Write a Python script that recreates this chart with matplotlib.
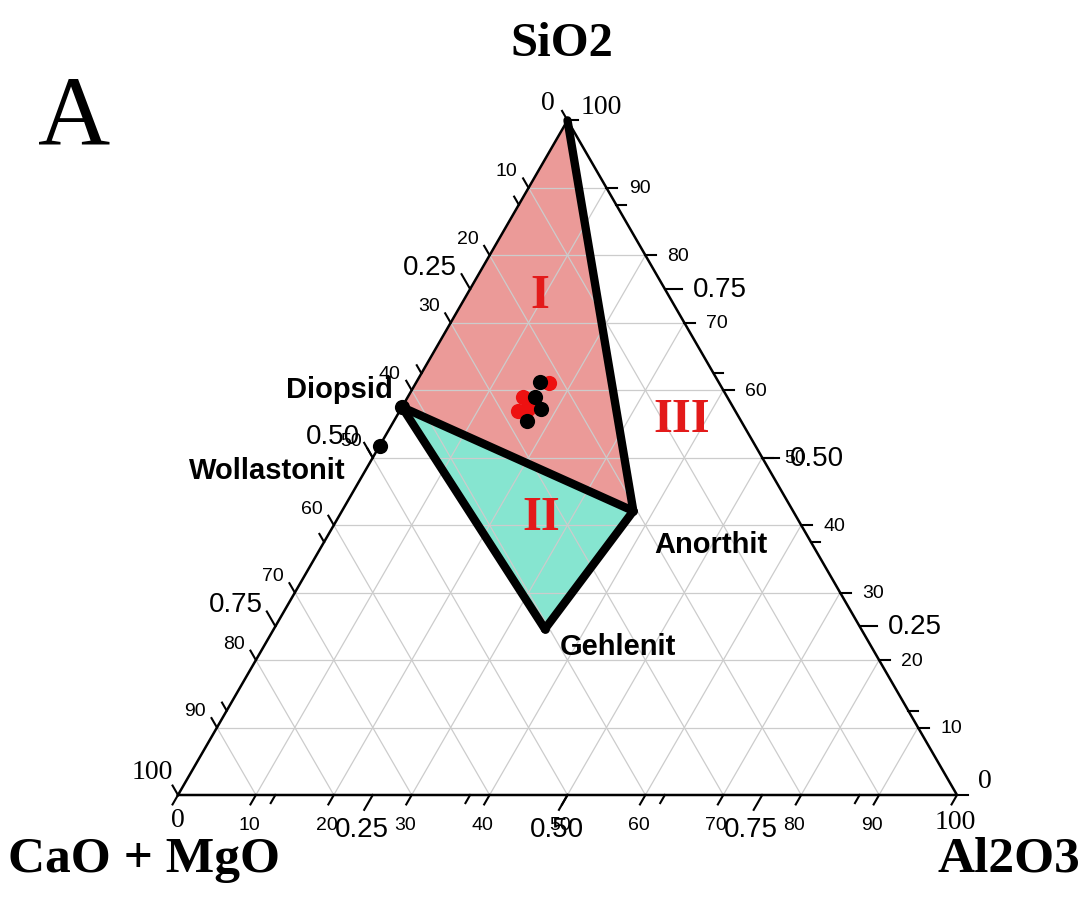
import numpy as np
import matplotlib
matplotlib.use('Agg')
import matplotlib.pyplot as plt

# ternary data: (Al2O3, SiO2) fractions, CaO+MgO = 1 - Al - Si
mineral_names = ['Diopsid', 'Wollastonit', 'Anorthit', 'Gehlenit']
mineral_al = [0.0, 0.0, 0.374, 0.348]
mineral_si = [0.575, 0.518, 0.421, 0.246]

black_al = [0.159, 0.163, 0.180, 0.171]
black_si = [0.612, 0.590, 0.572, 0.554]
red_al = [0.171, 0.148, 0.152, 0.163]
red_si = [0.610, 0.590, 0.569, 0.572]

major_ticks = [0, 10, 20, 30, 40, 50, 60, 70, 80, 90, 100]
quarter_ticks = [0.25, 0.50, 0.75]
eighth_ticks = [0.125, 0.375, 0.625, 0.875]

SERIF = 'Liberation Serif'
SANS = 'Liberation Sans'
H = np.sqrt(3) / 2


def tern(al, si):
    al = np.asarray(al, dtype=float)
    si = np.asarray(si, dtype=float)
    return al + si / 2, si * H


fig = plt.figure(figsize=(10.86, 9.03), dpi=100)
ax = fig.add_axes([0, 0, 1, 1])
ax.set_xlim(-178 / 779, (1086 - 178) / 779)
ax.set_ylim((796 - 903) / 779, 796 / 779)
ax.axis('off')

# grid lines
gc = '#cccccc'
for k in range(1, 10):
    f = k / 10
    # constant SiO2 (horizontal)
    x, y = tern([0, 1 - f], [f, f])
    ax.plot(x, y, color=gc, lw=0.9, zorder=1)
    # constant Al2O3
    x, y = tern([f, f], [0, 1 - f])
    ax.plot(x, y, color=gc, lw=0.9, zorder=1)
    # constant CaO
    x, y = tern([1 - f, 0], [0, 1 - f])
    ax.plot(x, y, color=gc, lw=0.9, zorder=1)

# fields
pink = '#eb9a98'
cyan = '#86e5d0'
dio = (mineral_al[0], mineral_si[0])
ano = (mineral_al[2], mineral_si[2])
geh = (mineral_al[3], mineral_si[3])
top = (0.0, 1.0)

x, y = tern([top[0], dio[0], ano[0]], [top[1], dio[1], ano[1]])
ax.fill(x, y, color=pink, zorder=0.5, lw=0)
x, y = tern([dio[0], ano[0], geh[0]], [dio[1], ano[1], geh[1]])
ax.fill(x, y, color=cyan, zorder=0.5, lw=0)

# outer triangle
x, y = tern([0, 1, 0, 0], [0, 0, 1, 0])
ax.plot(x, y, color='black', lw=1.8, zorder=3)

# thick boundaries
for a, b in [(top, ano), (dio, ano), (dio, geh), (geh, ano)]:
    x, y = tern([a[0], b[0]], [a[1], b[1]])
    ax.plot(x, y, color='black', lw=6, solid_capstyle='round', zorder=4)

# ticks
def draw_tick(px, py, dx, dy, length):
    ax.plot([px, px + dx * length], [py, py + dy * length], color='black', lw=1.5, zorder=3)

d_bottom = (-0.5, -H)
d_right = (1.0, 0.0)
d_left = (-0.5, H)
for t in major_ticks:
    f = t / 100
    bx, by = tern(f, 0)
    draw_tick(bx, by, *d_bottom, 0.014)
    rx, ry = tern(1 - f, f)
    draw_tick(rx, ry, *d_right, 0.014)
    lx, ly = tern(0, 1 - f)
    draw_tick(lx, ly, *d_left, 0.014)
for f in quarter_ticks:
    bx, by = tern(f, 0)
    draw_tick(bx, by, *d_bottom, 0.022)
    rx, ry = tern(1 - f, f)
    draw_tick(rx, ry, *d_right, 0.022)
    lx, ly = tern(0, 1 - f)
    draw_tick(lx, ly, *d_left, 0.022)
for f in eighth_ticks:
    bx, by = tern(f, 0)
    draw_tick(bx, by, *d_bottom, 0.012)
    rx, ry = tern(1 - f, f)
    draw_tick(rx, ry, *d_right, 0.012)
    lx, ly = tern(0, 1 - f)
    draw_tick(lx, ly, *d_left, 0.012)

# tick labels
px = 1 / 779
for t in major_ticks[1:-1]:
    f = t / 100
    bx, by = tern(f, 0)
    ax.text(bx - 7 * px, by - 30 * px, str(t), fontsize=14, family=SANS,
            ha='center', va='center', zorder=5)
    rx, ry = tern(1 - f, f)
    ax.text(rx + 33 * px, ry, str(t), fontsize=14, family=SANS,
            ha='center', va='center', zorder=5)
    lx, ly = tern(0, 1 - f)
    ax.text(lx - 22 * px, ly + 17 * px, str(t), fontsize=14, family=SANS,
            ha='center', va='center', zorder=5)
for f in quarter_ticks:
    lab = '%.2f' % f
    bx, by = tern(f, 0)
    ax.text(bx - 11 * px, by - 34 * px, lab, fontsize=20, family=SANS,
            ha='center', va='center', zorder=5)
    rx, ry = tern(1 - f, f)
    ax.text(rx + 55 * px, ry, lab, fontsize=20, family=SANS,
            ha='center', va='center', zorder=5)
    lx, ly = tern(0, 1 - f)
    ax.text(lx - 40 * px, ly + 22 * px, lab, fontsize=20, family=SANS,
            ha='center', va='center', zorder=5)

# corner labels
for xy, off, lab in [((0, 1), (-20, 18), '0'), ((0, 1), (34, 14), '100'),
                     ((0, 0), (-26, 23), '100'), ((0, 0), (0, -25), '0'),
                     ((1, 0), (-2, -27), '100'), ((1, 0), (28, 14), '0')]:
    cx, cy = tern(*xy)
    ax.text(cx + off[0] * px, cy + off[1] * px, lab, fontsize=20, family=SERIF,
            ha='center', va='center', zorder=5)

# data points
x, y = tern(red_al, red_si)
ax.scatter(x, y, s=120, color='#ee1111', zorder=6, lw=0)
x, y = tern(black_al, black_si)
ax.scatter(x, y, s=120, color='black', zorder=7, lw=0)
x, y = tern(mineral_al[:2], mineral_si[:2])
ax.scatter(x, y, s=120, color='black', zorder=7, lw=0)
x, y = tern(mineral_al[2:], mineral_si[2:])
ax.scatter(x, y, s=40, color='black', zorder=7, lw=0)

# mineral labels
label_off = [(-63, 18), (-112, -24), (78, -33), (73, -17)]
for name, a, s, off in zip(mineral_names, mineral_al, mineral_si, label_off):
    mx, my = tern(a, s)
    ax.text(mx + off[0] * px, my + off[1] * px, name, fontsize=21, family=SANS,
            fontweight='bold', ha='center', va='center', zorder=5)

# field labels
for lab, (a, s) in [('I', (0.094, 0.741)), ('II', (0.260, 0.412)), ('III', (0.368, 0.557))]:
    fx, fy = tern(a, s)
    ax.text(fx, fy, lab, fontsize=35, family=SERIF, fontweight='bold',
            color='#e31a1a', ha='center', va='center', zorder=5)

# axis titles
ax.text(562 * px - 178 * px, (796 - 44) * px, 'SiO2', fontsize=35, family=SERIF,
        fontweight='bold', ha='center', va='center')
ax.text(8 * px - 178 * px, (796 - 860) * px, 'CaO + MgO', fontsize=37, family=SERIF,
        fontweight='bold', ha='left', va='center')
ax.text(1080 * px - 178 * px, (796 - 860) * px, 'Al2O3', fontsize=37, family=SERIF,
        fontweight='bold', ha='right', va='center')
ax.text(74 * px - 178 * px, (796 - 120) * px, 'A', fontsize=72, family=SERIF,
        ha='center', va='center')

fig.savefig('out.png', dpi=100)
